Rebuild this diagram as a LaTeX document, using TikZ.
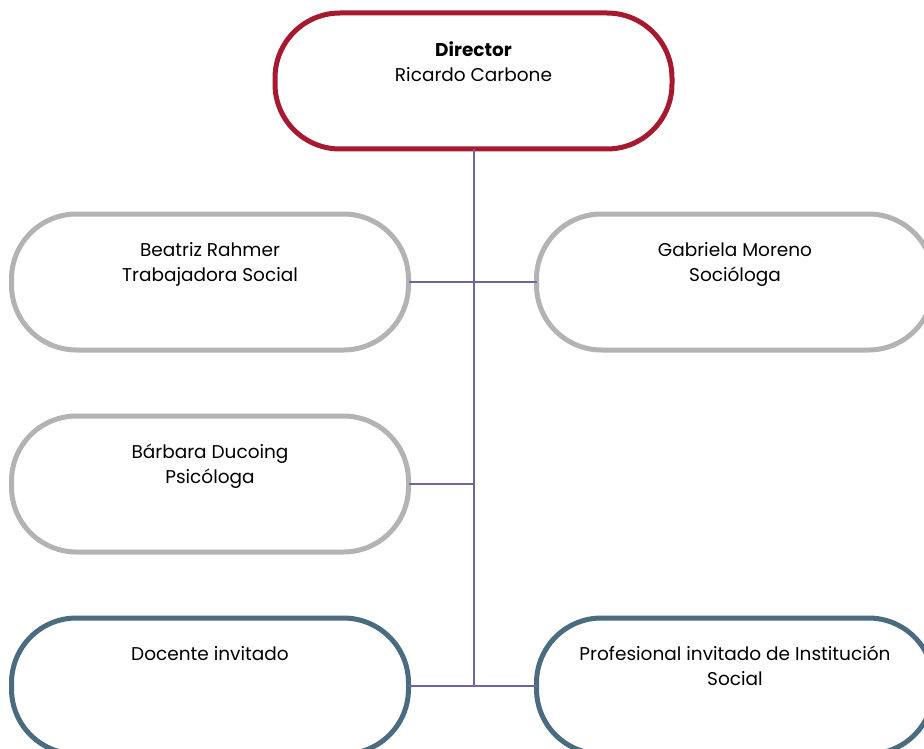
\documentclass[tikz,border=0pt]{standalone}
\usepackage{fontspec}
\setmainfont{Poppins}
\definecolor{dirred}{HTML}{A6192E}
\definecolor{boxgray}{HTML}{B3B3B3}
\definecolor{boxblue}{HTML}{4B6B80}
\definecolor{linkc}{HTML}{6E66A2}
\tikzset{
  pill/.style={draw, line width=5pt, fill=white, rounded corners=65pt,
    minimum width=397pt, minimum height=136pt, inner sep=0pt, outer sep=0pt},
  lbl/.style={anchor=north, align=center, font=\fontsize{18.5}{25}\selectfont, inner sep=0pt},
  link/.style={draw=linkc, line width=2pt}
}
\begin{document}
\begin{tikzpicture}[x=1pt,y=-1pt]
\useasboundingbox (0,0) rectangle (924,749);
\clip (0,0) rectangle (924,749);
\node[pill, draw=dirred, minimum width=397pt] (dir) at (473.5,81) {};
\node[pill, draw=boxgray] (bea) at (210,282) {};
\node[pill, draw=boxgray] (gab) at (735,282) {};
\node[pill, draw=boxgray] (bar) at (210,484) {};
\node[pill, draw=boxblue] (doc) at (210,686) {};
\node[pill, draw=boxblue] (pro) at (735,686) {};
\draw[link] (dir.south) -- (dir.south |- doc.east);
\draw[link] (bea.east) -- (gab.west);
\draw[link] (bar.east) -- (bar.east -| dir.south);
\draw[link] (doc.east) -- (pro.west);
\node[lbl] (tdir) at ([yshift=-28pt]dir.north) {\textbf{Director}\\Ricardo Carbone};
\node[lbl] (tbea) at ([yshift=-28pt]bea.north) {Beatriz Rahmer\\Trabajadora Social};
\node[lbl] (tgab) at ([yshift=-28pt]gab.north) {Gabriela Moreno\\Socióloga};
\node[lbl] (tbar) at ([yshift=-28pt]bar.north) {Bárbara Ducoing\\Psicóloga};
\node[lbl] (tdoc) at ([yshift=-28pt]doc.north) {Docente invitado};
\node[lbl] (tpro) at ([yshift=-28pt]pro.north) {Profesional invitado de Institución\\Social};
\end{tikzpicture}
\end{document}
